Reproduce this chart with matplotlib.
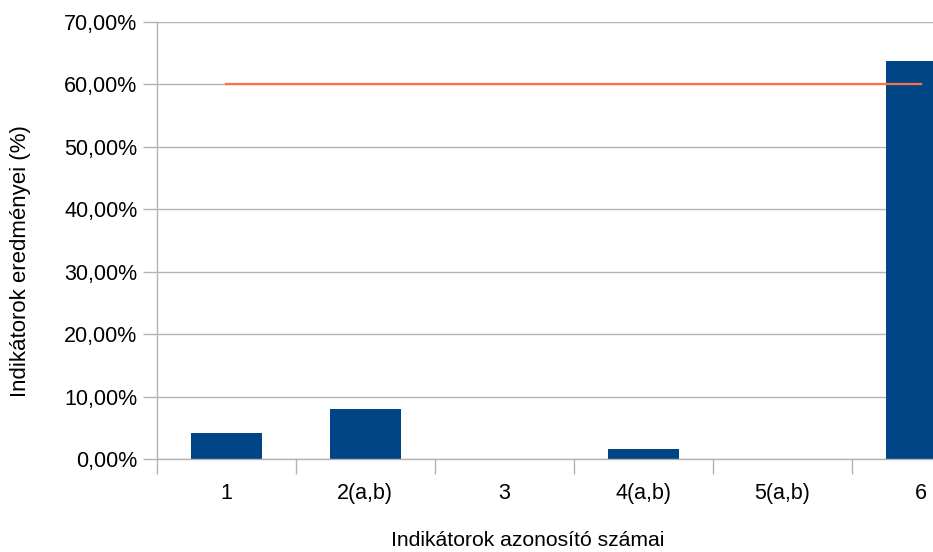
import matplotlib.pyplot as plt
import numpy as np
from matplotlib.ticker import FuncFormatter

plt.rcParams["font.family"] = ["Liberation Sans", "DejaVu Sans"]

# adatok
categories = ["1", "2(a,b)", "3", "4(a,b)", "5(a,b)", "6"]
values = [4.15, 8.0, 0.0, 1.6, 0.0, 63.7]
target = [60.0, 60.0, 60.0, 60.0, 60.0, 60.0]

W, H = 933, 552
fig = plt.figure(figsize=(W / 100, H / 100), dpi=100)
# a diagram jobb széle le van vágva, ezért a tengely túlnyúlik a képen
ax = fig.add_axes([156.7 / W, (H - 459.3) / H, 834 / W, 437.6 / H])

x = np.arange(len(categories))
ax.bar(x, values, width=0.51, color="#004586", zorder=2)
ax.plot(x, target, color="#ff6f4a", linewidth=1.6, zorder=3)

ax.set_xlim(-0.5, len(categories) - 0.5)
ax.set_ylim(0, 70)
ax.set_yticks(np.arange(0, 71, 10))
ax.yaxis.set_major_formatter(FuncFormatter(lambda v, p: f"{v:.2f}%".replace(".", ",")))
ax.yaxis.grid(True, color="#b3b3b3", linewidth=1.0, zorder=0)

ax.set_xticks(np.arange(-0.5, len(categories), 1.0))
ax.set_xticklabels([])
ax.set_xticks(x, minor=True)
ax.set_xticklabels(categories, minor=True)
ax.tick_params(axis="x", which="major", length=11, width=1, color="#b3b3b3")
ax.tick_params(axis="x", which="minor", length=0, pad=17, labelsize=15.5)
ax.tick_params(axis="y", length=10, width=1, color="#b3b3b3", labelsize=15.5, pad=4)

for s in ["top", "right"]:
    ax.spines[s].set_visible(False)
for s in ["left", "bottom"]:
    ax.spines[s].set_color("#b3b3b3")
    ax.spines[s].set_linewidth(1.0)

fig.text(527.5 / W, 1 - 540 / H, "Indikátorok azonosító számai", ha="center", va="center", fontsize=15.2)
fig.text(21 / W, 1 - 261 / H, "Indikátorok eredményei (%)", ha="center", va="center",
         rotation=90, fontsize=16)

fig.savefig("out.png", dpi=100)
